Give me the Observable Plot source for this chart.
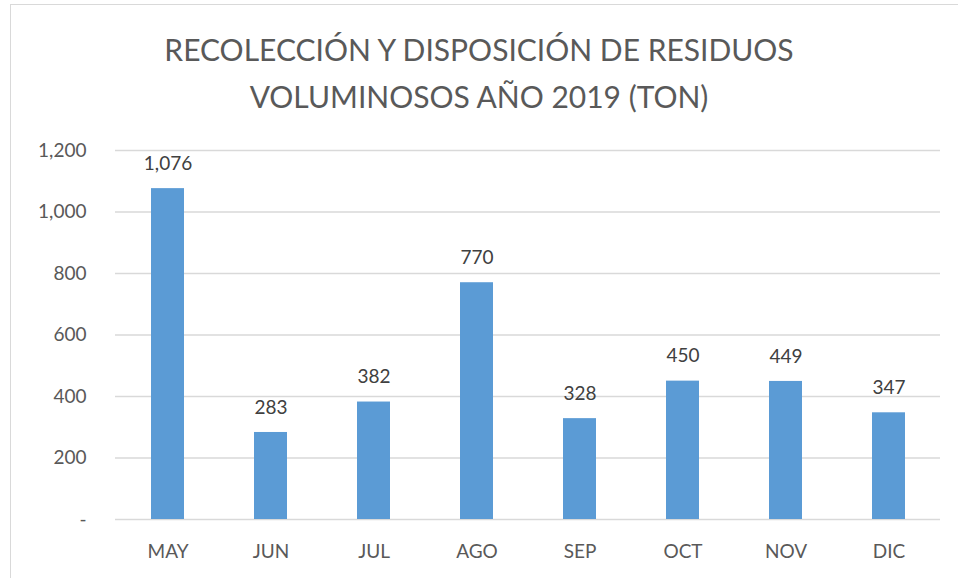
<!DOCTYPE html>
<html>
<head>
<meta charset="utf-8">
<script src="https://cdn.jsdelivr.net/npm/d3@7"></script>
<script src="https://cdn.jsdelivr.net/npm/@observablehq/plot@0.6"></script>
<style>
  html, body { margin: 0; padding: 0; background: #fff; overflow: hidden; width: 958px; height: 578px; }
  #frame { position: absolute; left: 10px; top: 4px; width: 980px; height: 620px; border: 1.5px solid #d9d9d9; pointer-events: none; }
  #title { position: absolute; left: 0; top: 0; width: 958px; height: 130px; text-align: center; font-family: Lato, "Open Sans", sans-serif; font-size: 30px; color: #595959; line-height: 47px; padding-top: 26px; box-sizing: border-box; }
  #chart { position: absolute; left: 0; top: 130px; }
</style>
</head>
<body>
<div id="frame"></div>
<div id="title">RECOLECCIÓN Y DISPOSICIÓN DE RESIDUOS<br>VOLUMINOSOS AÑO 2019 (TON)</div>
<div id="chart"></div>
<script>
const months = ["MAY", "JUN", "JUL", "AGO", "SEP", "OCT", "NOV", "DIC"];
const values = [1076, 283, 382, 770, 328, 450, 449, 347];
const yTicks = [0, 200, 400, 600, 800, 1000, 1200];

const data = months.map((m, i) => ({month: m, value: values[i]}));
const fmt = d => d === 0 ? "-" : d3.format(",")(d);

const chart = Plot.plot({
  width: 958,
  height: 448,
  marginTop: 20,
  marginBottom: 59,
  marginLeft: 115,
  marginRight: 18,
  style: {fontFamily: "Lato, 'Open Sans', sans-serif", fontSize: "19px", color: "#595959", background: "transparent"},
  x: {domain: months, paddingInner: 0.68, paddingOuter: 0.34, label: null},
  y: {domain: [0, 1200], label: null},
  marks: [
    Plot.gridY(yTicks, {stroke: "#d9d9d9", strokeOpacity: 1, strokeWidth: 1.5}),
    Plot.axisY(yTicks, {tickSize: 0, tickPadding: 29, tickFormat: fmt, fill: "#595959", fontSize: 19, label: null}),
    Plot.axisX({tickSize: 0, tickPadding: 25, fill: "#595959", fontSize: 19, label: null}),
    Plot.barY(data, {x: "month", y: "value", fill: "#5b9bd5"}),
    Plot.text(data, {x: "month", y: "value", text: d => d3.format(",")(d.value), dy: -25, fill: "#404040", fontSize: 19})
  ]
});
document.getElementById("chart").appendChild(chart);
</script>
</body>
</html>
